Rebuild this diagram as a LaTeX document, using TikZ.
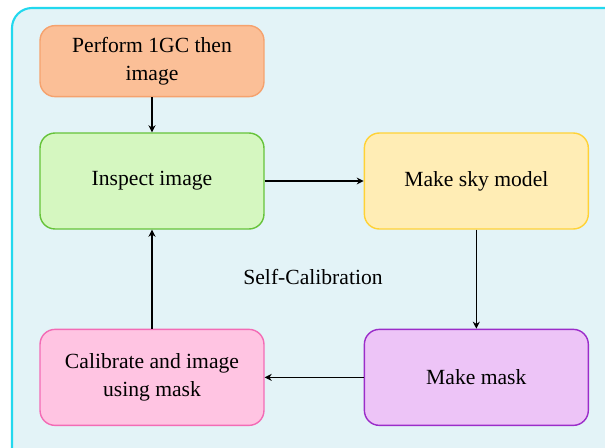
\documentclass[tikz,border=0pt]{standalone}
\usepackage{fontspec}
\setmainfont{Liberation Serif}
\usetikzlibrary{positioning, arrows.meta}
\definecolor{bgFill}{RGB}{227,243,247}
\definecolor{bgLine}{RGB}{34,216,238}
\definecolor{oFill}{RGB}{251,191,151}
\definecolor{oLine}{RGB}{245,162,110}
\definecolor{gFill}{RGB}{213,247,192}
\definecolor{gLine}{RGB}{102,195,58}
\definecolor{yFill}{RGB}{255,237,181}
\definecolor{yLine}{RGB}{255,210,54}
\definecolor{pFill}{RGB}{237,196,247}
\definecolor{pLine}{RGB}{155,45,201}
\definecolor{kFill}{RGB}{255,196,226}
\definecolor{kLine}{RGB}{243,107,181}

\begin{document}
\begin{tikzpicture}[x=0.02cm, y=-0.02cm,
		stepbox/.style={draw, thick, rounded corners=0.3cm, minimum width=4.48cm, minimum height=1.92cm,
			text width=3.7cm, align=flush center, font=\fontsize{12.3}{16}\selectfont},
		flow/.style={-{Stealth[length=4pt, width=4pt]}, thick, black}]
	\useasboundingbox (0,0) rectangle (605,447);
	% background panel
	\draw[bgLine, fill=bgFill, line width=1.2pt, rounded corners=0.4cm] (12,8) rectangle (650,480);
	\node[stepbox, fill=gFill, draw=gLine] (inspect) at (152,181) {Inspect image};
	\node[stepbox, fill=oFill, draw=oLine, minimum height=1.42cm, above=0.7cm of inspect] (perform) {Perform 1GC then image};
	\node[stepbox, fill=yFill, draw=yLine, right=1.98cm of inspect] (sky) {Make sky model};
	\node[stepbox, fill=pFill, draw=pLine, below=1.98cm of sky] (mask) {Make mask};
	\node[stepbox, fill=kFill, draw=kLine, below=1.98cm of inspect] (calib) {Calibrate and image using mask};
	\node[font=\fontsize{12.3}{16}\selectfont] (selfcal) at (313,277) {Self-Calibration};
	\draw[flow] (perform) -- (inspect);
	\draw[flow] (inspect) -- (sky);
	\draw[flow] (sky) -- (mask);
	\draw[flow] (mask) -- (calib);
	\draw[flow] (calib) -- (inspect);
\end{tikzpicture}
\end{document}
